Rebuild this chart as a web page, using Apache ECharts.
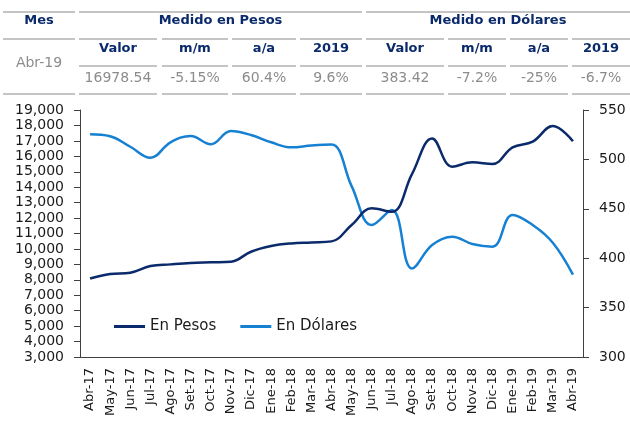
<!DOCTYPE html>
<html>
<head>
<meta charset="utf-8">
<script src="https://cdn.jsdelivr.net/npm/echarts@6/dist/echarts.min.js"></script>
<style>
  html, body { margin: 0; padding: 0; background: #fff; }
  #chart { width: 630px; height: 421px; }
</style>
</head>
<body>
<div id="chart"></div>
<script>
// datos del gráfico
const months = ['Abr-17', 'May-17', 'Jun-17', 'Jul-17', 'Ago-17', 'Set-17', 'Oct-17', 'Nov-17', 'Dic-17',
  'Ene-18', 'Feb-18', 'Mar-18', 'Abr-18', 'May-18', 'Jun-18', 'Jul-18', 'Ago-18', 'Set-18', 'Oct-18',
  'Nov-18', 'Dic-18', 'Ene-19', 'Feb-19', 'Mar-19', 'Abr-19']
const enPesos = [8080, 8370, 8460, 8890, 9000, 9090, 9130, 9170, 9820, 10190, 10360, 10420, 10490,
  11550, 12630, 12410, 14850, 17160, 15330, 15610, 15500, 16580, 16950, 17960, 16979]
const enDolares = [525.5, 523.5, 512.8, 501.7, 517.3, 523.7, 515.3, 528.7, 524.7, 517.3, 512.2, 514, 515,
  473, 433.6, 448.8, 389.5, 413.3, 421.8, 414.4, 411.7, 443.7, 433.6, 415.7, 383.42]

// tabla superior
const groupHeaders = ['Mes', 'Medido en Pesos', 'Medido en Dólares']
const subHeaders = ['Valor', 'm/m', 'a/a', '2019', 'Valor', 'm/m', 'a/a', '2019']
const mesValue = 'Abr-19'
const rowValues = ['16978.54', '-5.15%', '60.4%', '9.6%', '383.42', '-7.2%', '-25%', '-6.7%']

const NAVY = '#0b2a6b'
const BLUE = '#1681d2'
const GREY_LINE = '#c4c4c4'
const GREY_TEXT = '#8c8c8c'
const FONT = 'DejaVu Sans'

// columnas de la tabla (px)
const mesCol = [3, 75]
const groupCols = [[79, 362], [366, 630]]
const subCols = [[79, 157], [162, 228], [232, 296], [300, 362], [366, 444], [448, 506], [510, 568], [572, 630]]

function hline(x1, x2, y) {
  return { type: 'line', shape: { x1, y1: y, x2, y2: y }, style: { stroke: GREY_LINE, lineWidth: 2 }, silent: true }
}
function txt(text, x, y, opts) {
  return {
    type: 'text', x, y, silent: true,
    style: Object.assign({ text, fontFamily: FONT, align: 'center', verticalAlign: 'middle' }, opts),
  }
}

const graphics = []
// líneas
graphics.push(hline(mesCol[0], mesCol[1], 12))
groupCols.forEach((c) => graphics.push(hline(c[0], c[1], 12)))
graphics.push(hline(mesCol[0], mesCol[1], 39))
subCols.forEach((c) => {
  graphics.push(hline(c[0], c[1], 39))
  graphics.push(hline(c[0], c[1], 66))
  graphics.push(hline(c[0], c[1], 94))
})
graphics.push(hline(mesCol[0], mesCol[1], 94))
// textos
graphics.push(txt(groupHeaders[0], (mesCol[0] + mesCol[1]) / 2, 21, { fontSize: 13, fontWeight: 'bold', fill: NAVY }))
groupCols.forEach((c, i) => {
  graphics.push(txt(groupHeaders[i + 1], (c[0] + c[1]) / 2, 21, { fontSize: 13, fontWeight: 'bold', fill: NAVY }))
})
subCols.forEach((c, i) => {
  graphics.push(txt(subHeaders[i], (c[0] + c[1]) / 2, 49, { fontSize: 13, fontWeight: 'bold', fill: NAVY }))
  graphics.push(txt(rowValues[i], (c[0] + c[1]) / 2, 78, { fontSize: 14, fill: GREY_TEXT }))
})
graphics.push(txt(mesValue, (mesCol[0] + mesCol[1]) / 2, 63, { fontSize: 14, fill: GREY_TEXT }))

const chart = echarts.init(document.getElementById('chart'))
chart.setOption({
  animation: false,
  backgroundColor: '#fff',
  textStyle: { fontFamily: FONT },
  graphic: graphics,
  legend: {
    left: 109,
    top: 314,
    icon: 'rect',
    itemWidth: 31,
    itemHeight: 3,
    itemGap: 24,
    textStyle: { fontSize: 15, color: '#1a1a1a', fontFamily: FONT },
    data: ['En Pesos', 'En Dólares'],
  },
  grid: { left: 80, right: 47, top: 110, bottom: 64 },
  xAxis: {
    type: 'category',
    data: months,
    boundaryGap: true,
    axisLine: { lineStyle: { color: '#404040', width: 1 } },
    axisTick: { show: false },
    axisLabel: { rotate: 90, fontSize: 13, color: '#1a1a1a', margin: 11, interval: 0 },
  },
  yAxis: [
    {
      type: 'value',
      min: 3000,
      max: 19000,
      interval: 1000,
      axisLine: { show: true, lineStyle: { color: '#404040' } },
      axisTick: { show: true, length: 6, lineStyle: { color: '#404040' } },
      axisLabel: { fontSize: 14, color: '#1a1a1a', margin: 16, formatter: (v) => v.toLocaleString('en-US') },
      splitLine: { show: false },
    },
    {
      type: 'value',
      position: 'right',
      min: 300,
      max: 550,
      interval: 50,
      axisLine: { show: true, lineStyle: { color: '#404040' } },
      axisTick: { show: true, length: 6, lineStyle: { color: '#404040' } },
      axisLabel: { fontSize: 14, color: '#1a1a1a', margin: 16 },
      splitLine: { show: false },
    },
  ],
  series: [
    {
      name: 'En Pesos',
      type: 'line',
      yAxisIndex: 0,
      data: enPesos,
      smooth: 0.4,
      showSymbol: false,
      lineStyle: { color: NAVY, width: 2.5 },
      itemStyle: { color: NAVY },
      z: 3,
    },
    {
      name: 'En Dólares',
      type: 'line',
      yAxisIndex: 1,
      data: enDolares,
      smooth: 0.4,
      showSymbol: false,
      lineStyle: { color: BLUE, width: 2.5 },
      itemStyle: { color: BLUE },
      z: 2,
    },
  ],
})
</script>
</body>
</html>
